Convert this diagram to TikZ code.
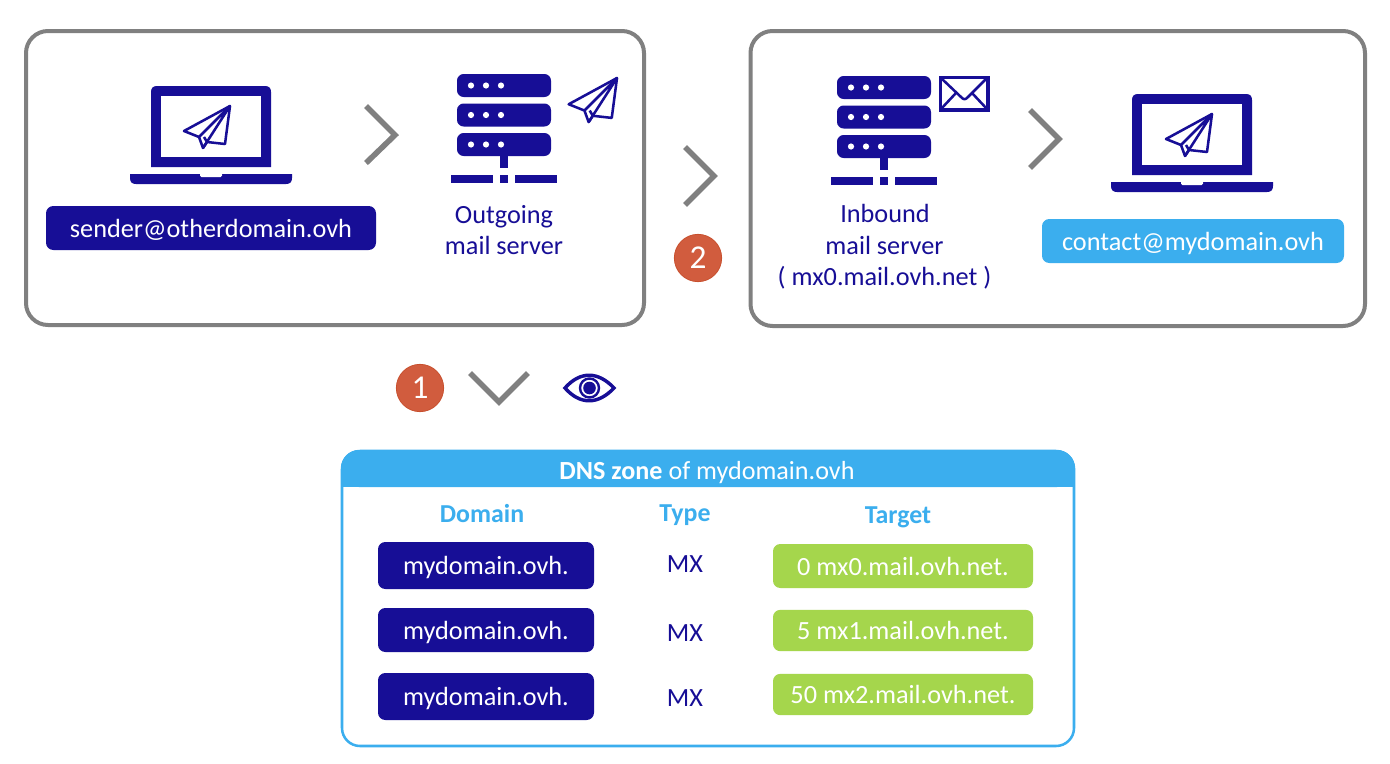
\documentclass[tikz,border=0pt]{standalone}
\usepackage{fontspec}
\setmainfont{Carlito}
\definecolor{navy}{HTML}{170E96}
\definecolor{sky}{HTML}{3BAEEE}
\definecolor{leaf}{HTML}{A5D64C}
\definecolor{greyline}{HTML}{808080}
\definecolor{badgefill}{HTML}{D15C3E}
\definecolor{badgeline}{HTML}{C8502E}
\tikzset{
  panel/.style={draw=greyline,line width=3pt,rounded corners=16.5pt,fill=white},
  chevron/.style={draw=greyline,line width=4.2pt,miter limit=10},
  iconline/.style={draw=navy,line width=1.9pt,line join=round,fill=white},
  mid/.style={text height=16pt,text depth=2.5pt,inner sep=0pt},
  lbl/.style={mid,text=navy,font=\fontsize{19.7}{23}\selectfont},
  pill/.style={mid,text=white,font=\fontsize{19.7}{23}\selectfont,rounded corners=5.5pt},
  hdr/.style={mid,text=sky,font=\fontsize{19.4}{23}\selectfont\bfseries},
  badge/.style={circle,fill=badgefill,draw=badgeline,line width=.6pt,minimum size=35.5pt,inner sep=0pt,text=white,font=\fontsize{25}{28}\selectfont},
  planeicon/.pic={
    \draw[iconline] (0,0) -- (-46,25) -- (-31,31) -- (-27,42) -- (-23,36) -- (-5,38) -- cycle;
    \draw[iconline,fill=none] (0,0) -- (-31,31) (0,0) -- (-27,42) (-23,36) -- (-26,31);
  },
  laptopicon/.pic={
    \fill[navy] (151,167) -- (151,92) .. controls (151,88) and (153,86) .. (157,86) -- (265,86) .. controls (269,86) and (271,88) .. (271,92) -- (271,167) -- cycle;
    \fill[white] (161,96) rectangle (261,157);
    \fill[navy] (130,174) -- (292,174) -- (292,178) .. controls (292,182) and (290,184) .. (286,184) -- (136,184) .. controls (132,184) and (130,182) .. (130,178) -- cycle;
    \fill[white,rounded corners=1pt] (200,173) -- (200,177) -- (222,177) -- (222,173) -- cycle;
  },
  servericon/.pic={
    \foreach \yy in {74,103.5,133}{
      \fill[navy,rounded corners=5pt] (457,\yy) rectangle (551,\yy+23);
      \foreach \xx in {471,486,501}{\fill[white] (\xx,\yy+11.5) circle[radius=3.1];}
    }
    \fill[navy] (500,156) rectangle (508,168);
    \fill[navy] (451,175) rectangle (493,183);
    \fill[navy] (500,175) rectangle (508,183);
    \fill[navy] (515,175) rectangle (557,183);
  }
}
\begin{document}
\begin{tikzpicture}[x=0.75pt,y=-0.75pt]
\useasboundingbox (0,0) rectangle (1390,764);
% panels
\draw[panel] (26,31) rectangle (644,325);
\draw[panel] (750.5,31) rectangle (1365,326);
% left panel
\pic at (0,0) {laptopicon};
\pic at (230,106) {planeicon};
\draw[chevron] (366,106) -- (395,135) -- (366,163);
\pic at (0,0) {servericon};
\pic[scale=1.05] at (617,78) {planeicon};
\node[pill,fill=navy,minimum width=247.5pt,minimum height=33pt] (sender) at (211,228) {sender@otherdomain.ovh};
\node[lbl] (out1) at (504,214) {Outgoing};
\node[lbl] (out2) at (504,245) {mail server};
% between
\draw[chevron] (685,147) -- (714,176) -- (685,205);
\node[badge] (two) at (698,258) {2};
% right panel
\pic at (380,2) {servericon};
\draw[draw=navy,line width=2.6pt,fill=white] (940.5,77.5) rectangle (988,110);
\draw[draw=navy,line width=1.9pt,line join=round] (941,78) -- (961,97) .. controls (964,100) and (965,100) .. (968,97) -- (987,78);
\draw[draw=navy,line width=1.9pt] (941,109) -- (956,93) (987,109) -- (972,93);
\draw[chevron] (1030,110) -- (1059,139) -- (1030,168);
\pic at (981,8) {laptopicon};
\pic at (1212,114) {planeicon};
\node[lbl] (in1) at (885,213) {Inbound};
\node[lbl] (in2) at (884.5,245) {mail server};
\node[lbl] (in3) at (884.5,276) {( mx0.mail.ovh.net )};
\node[pill,fill=sky,minimum width=226.5pt,minimum height=33pt] (contact) at (1193,241) {contact@mydomain.ovh};
% step 1
\node[badge] (one) at (420,388) {1};
\draw[chevron] (470,373) -- (499,402) -- (528,373);
\draw[draw=navy,line width=2.6pt,fill=white] (565,388) .. controls (580,371) and (598,371) .. (614,388) .. controls (598,405) and (580,405) .. (565,388) -- cycle;
\draw[navy,line width=1.8pt] (589.5,388) circle[radius=9.5];
\fill[navy] (589.5,388) circle[radius=6.3];
% DNS zone
\draw[draw=sky,line width=1.9pt,rounded corners=13.5pt,fill=white] (342,451) rectangle (1074,746);
\fill[sky,rounded corners=13.5pt] (341,450) -- (1075,450) -- (1075,487) -- (341,487) -- cycle;
\fill[sky] (341,470) rectangle (1075,487);
\node[mid,text=white,font=\fontsize{19.6}{23}\selectfont] (zone) at (707,470) {\textbf{DNS zone} of mydomain.ovh};
\node[hdr] (hd) at (482,513) {Domain};
\node[hdr] (ht) at (685,512) {Type};
\node[hdr] (hg) at (898,514) {Target};
\foreach \nm/\yy/\hh in {a/565.5/47,b/630/44,c/696.5/47}{
  \node[pill,fill=navy,minimum width=162pt,minimum height=\hh*0.75pt] (dom\nm) at (486,\yy) {mydomain.ovh.};
}
\node[lbl] (m1) at (685,563) {MX};
\node[lbl] (m2) at (685,632) {MX};
\node[lbl] (m3) at (685,697) {MX};
\node[pill,fill=leaf,minimum width=195pt,minimum height=33pt] (t1) at (903,566) {0 mx0.mail.ovh.net.};
\node[pill,fill=leaf,minimum width=195pt,minimum height=31pt] (t2) at (903,630.5) {5 mx1.mail.ovh.net.};
\node[pill,fill=leaf,minimum width=195pt,minimum height=31pt] (t3) at (903,694.5) {50 mx2.mail.ovh.net.};
\end{tikzpicture}
\end{document}
